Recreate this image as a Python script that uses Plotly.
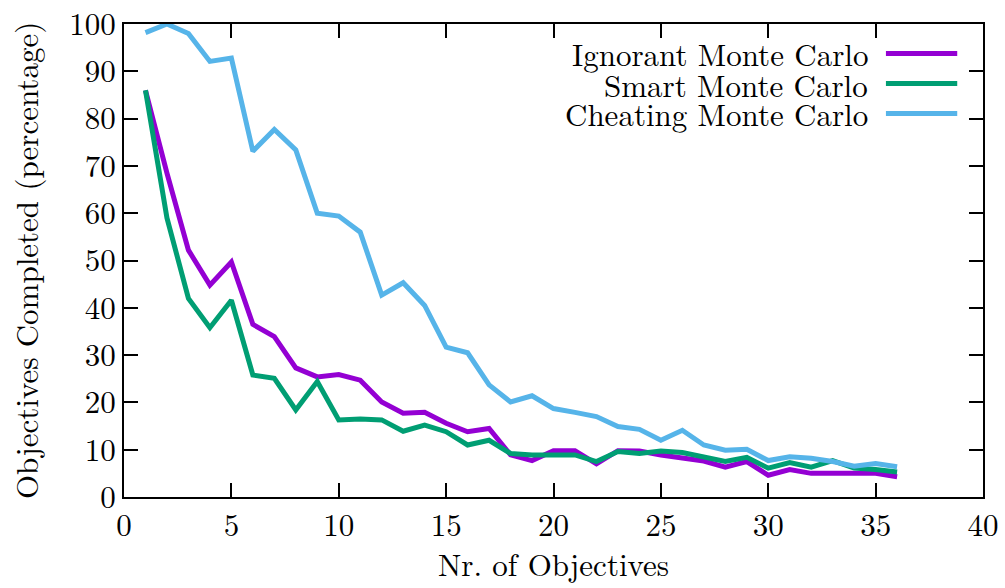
import plotly.graph_objects as go

objectives = list(range(1, 37))

ignorant = [86, 68.5, 52.2, 44.8, 49.7, 36.5, 33.9, 27.3, 25.4, 25.9,
            24.7, 20.1, 17.7, 17.9, 15.6, 13.8, 14.5, 8.9, 7.7, 9.8,
            9.8, 7.0, 9.8, 9.7, 8.9, 8.2, 7.6, 6.3, 7.5, 4.6,
            5.8, 5.0, 5.0, 5.0, 5.0, 4.3]

smart = [86, 59, 42.0, 35.8, 41.6, 25.8, 25.1, 18.4, 24.4, 16.3,
         16.5, 16.3, 13.9, 15.2, 13.8, 11.0, 12.0, 9.2, 8.9, 8.9,
         8.9, 7.5, 9.6, 9.2, 9.7, 9.4, 8.5, 7.5, 8.4, 6.1,
         7.3, 6.3, 7.7, 6.1, 5.8, 5.3]

cheating = [98.2, 100, 98, 92.1, 92.8, 73.1, 77.7, 73.4, 60.0, 59.4,
            56.0, 42.7, 45.3, 40.5, 31.7, 30.5, 23.7, 20.1, 21.4, 18.7,
            17.9, 17.0, 14.9, 14.3, 12.0, 14.1, 11.0, 9.9, 10.1, 7.7,
            8.5, 8.2, 7.5, 6.5, 7.1, 6.4]

series_names = ["Ignorant Monte Carlo", "Smart Monte Carlo", "Cheating Monte Carlo"]
series_values = [ignorant, smart, cheating]
series_colors = ["#9400D3", "#009E73", "#56B4E9"]

x_ticks = [0, 5, 10, 15, 20, 25, 30, 35, 40]
y_ticks = [0, 10, 20, 30, 40, 50, 60, 70, 80, 90, 100]

FONT = "Latin Modern Roman"
FS = 31

fig = go.Figure()
for name, vals, col in zip(series_names, series_values, series_colors):
    fig.add_trace(go.Scatter(x=objectives, y=vals, mode="lines", name=name,
                             line=dict(color=col, width=5), showlegend=False))

# legend drawn gnuplot-style: right-aligned text, sample line on the right
legend_rows = [0.9377, 0.874, 0.811]
for name, col, yy in zip(series_names, series_colors, legend_rows):
    fig.add_annotation(x=0.8685, y=yy, xref="paper", yref="paper", text=name,
                       showarrow=False, xanchor="right", yanchor="middle",
                       font=dict(family=FONT, size=FS, color="black"))
    fig.add_shape(type="line", xref="paper", yref="paper", x0=0.887, x1=0.970,
                  y0=yy, y1=yy, line=dict(color=col, width=5))

fig.add_annotation(x=0.5, y=-0.1395, xref="paper", yref="paper",
                   text="Nr. of Objectives", showarrow=False,
                   xanchor="center", yanchor="middle",
                   font=dict(family=FONT, size=FS, color="black"))
fig.add_annotation(x=-0.1158, y=0.5, xref="paper", yref="paper",
                   text="Objectives Completed (percentage)", showarrow=False,
                   textangle=-90, xanchor="center", yanchor="middle",
                   font=dict(family=FONT, size=FS, color="black"))

axis_common = dict(showgrid=False, zeroline=False, showline=True, linecolor="black",
                   linewidth=2, mirror="allticks", ticks="inside", ticklen=14,
                   tickwidth=2, tickcolor="black", ticklabeloverflow="allow",
                   automargin=False,
                   tickfont=dict(family=FONT, size=FS, color="black"))

fig.update_xaxes(range=[0, 40], tickvals=x_ticks, **axis_common)
fig.update_yaxes(range=[0, 100.01], tickvals=y_ticks, **axis_common)

fig.update_layout(width=1005, height=588, plot_bgcolor="white", paper_bgcolor="white",
                  margin=dict(l=124, r=22, t=24, b=91, autoexpand=False), showlegend=False,
                  font=dict(family=FONT))

fig.write_html("out.html")
